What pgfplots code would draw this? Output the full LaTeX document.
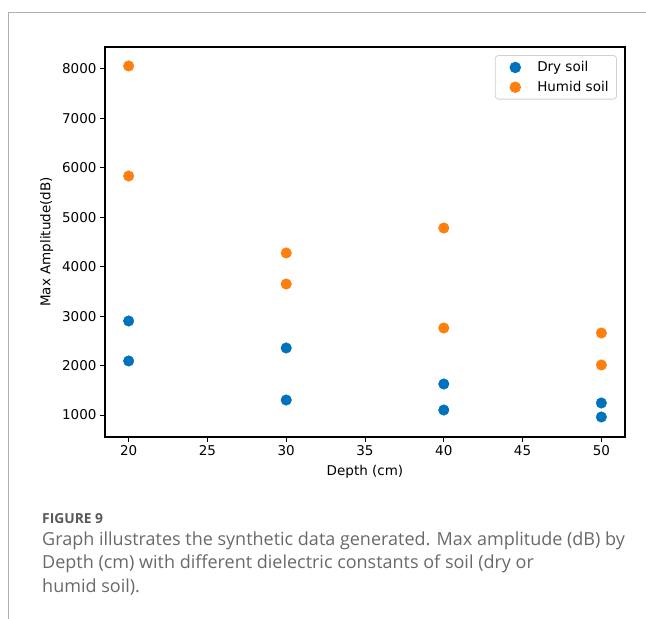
\documentclass[border=0pt]{standalone}
\usepackage{pgfplots}
\pgfplotsset{compat=1.18}
\usepackage{fontspec}
\setmainfont{DejaVu Sans}
\newfontfamily\capfont{Open Sans}

\definecolor{dryblue}{RGB}{0,114,189}
\definecolor{humidorange}{RGB}{255,127,14}
\definecolor{capgray}{RGB}{105,105,105}
\definecolor{framegray}{RGB}{175,175,175}

\newcommand{\tf}{\fontsize{13.5}{16}\selectfont}

\begin{document}
\begin{tikzpicture}
\path[use as bounding box] (0pt,0pt) rectangle (646pt,619pt);
\draw[framegray, line width=1pt] (8pt,0pt) -- (8pt,606pt) -- (646pt,606pt);

\begin{axis}[
    at={(105pt,182pt)}, anchor=south west,
    scale only axis, width=520pt, height=390pt,
    xmin=18.5, xmax=51.5, ymin=555, ymax=8445,
    xtick={20,25,30,35,40,45,50},
    ytick={1000,2000,3000,4000,5000,6000,7000,8000},
    tick align=outside, tick pos=left,
    major tick length=5pt,
    every tick/.style={black, line width=1pt},
    axis line style={line width=1.2pt},
    ticklabel style={font=\tf},
    /pgf/number format/1000 sep={},
    /pgf/number format/assume math mode=true,
    xlabel={Depth (cm)}, ylabel={Max Amplitude(dB)},
    label style={font=\tf},
    xlabel style={yshift=-3pt},
    ylabel style={yshift=2pt},
    legend image code/.code={
        \draw[#1] plot coordinates {(14pt,0pt)};
        \path[draw=none, fill=none] (0pt,-6pt) rectangle (34pt,6pt);
    },
    legend style={at={(0.9845,0.979)}, anchor=north east,
        draw=black!18, line width=0.8pt, rounded corners=3pt, font=\tf,
        row sep=4pt, inner xsep=6pt, inner ysep=4pt},
    legend cell align=left,
]
\addplot[only marks, mark=*, mark size=5.3pt, color=dryblue] coordinates {
    (20,2902) (20,2093) (30,2356) (30,1303)
    (40,1627) (40,1101) (50,1243) (50,960)
};
\addplot[only marks, mark=*, mark size=5.3pt, color=humidorange] coordinates {
    (20,8061) (20,5835) (30,4278) (30,3650)
    (40,4783) (40,2760) (50,2659) (50,2012)
};
\legend{Dry soil, Humid soil}
\end{axis}

\node[anchor=base west, inner sep=0pt, text=capgray!85!black, font=\capfont\bfseries\fontsize{13.8}{15}\selectfont] at (42pt,95pt) {FIGURE 9};
\node[anchor=base west, inner sep=0pt, text=capgray, font=\capfont\fontsize{18}{20}\selectfont] at (42pt,73pt) {Graph illustrates the synthetic data generated. Max amplitude (dB) by};
\node[anchor=base west, inner sep=0pt, text=capgray, font=\capfont\fontsize{18}{20}\selectfont] at (42pt,50pt) {Depth (cm) with different dielectric constants of soil (dry or};
\node[anchor=base west, inner sep=0pt, text=capgray, font=\capfont\fontsize{18}{20}\selectfont] at (42pt,26pt) {humid soil).};
\end{tikzpicture}
\end{document}
